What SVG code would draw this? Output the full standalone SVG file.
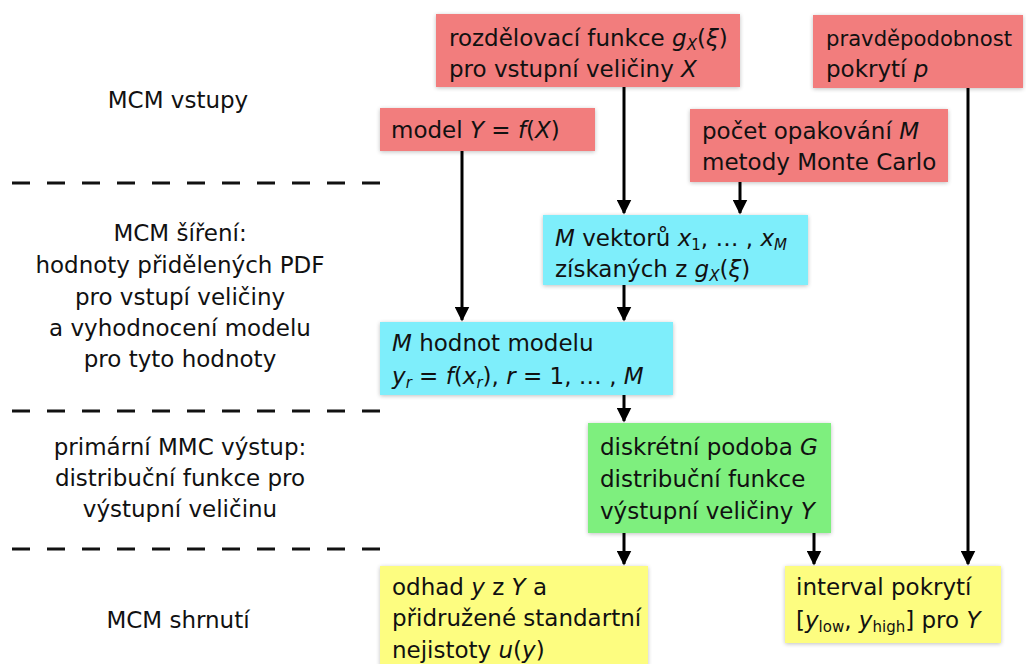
<svg xmlns="http://www.w3.org/2000/svg" width="1026" height="664" viewBox="0 0 1026 664">
<defs>
<marker id="ah" markerWidth="5" markerHeight="5" refX="4.5" refY="2.5" orient="auto" markerUnits="strokeWidth">
<path d="M0,0 L5,2.5 L0,5 Z" fill="#000"/>
</marker>
<filter id="sh" x="-5%" y="-10%" width="110%" height="120%">
<feGaussianBlur in="SourceAlpha" stdDeviation="2"/>
<feOffset dx="0" dy="1" result="b"/>
<feComponentTransfer><feFuncA type="linear" slope="0.25"/></feComponentTransfer>
<feMerge><feMergeNode/><feMergeNode in="SourceGraphic"/></feMerge>
</filter>
<style>
text{font-family:"DejaVu Sans","Liberation Sans",sans-serif;font-size:23px;fill:#111;}
.c{text-anchor:middle;}
.i{font-style:italic;}
.s{font-size:15px;}
.red{fill:#f27d7d;}
.cyan{fill:#7eeefb;}
.green{fill:#7eef7e;}
.yellow{fill:#fdfd80;}
.box rect{filter:url(#sh);}
.conn line{stroke:#000;stroke-width:3;marker-end:url(#ah);}
.dash line{stroke:#111;stroke-width:3;stroke-dasharray:18 17;}
</style>
</defs>
<rect width="1026" height="664" fill="#fff"/>

<g class="dash">
<line x1="12" y1="183" x2="380" y2="183"/>
<line x1="12" y1="411" x2="380" y2="411"/>
<line x1="12" y1="549" x2="380" y2="549"/>
</g>

<g id="labels">
<text class="c" x="178" y="108">MCM vstupy</text>
<text class="c" x="180" y="241">MCM šíření:</text>
<text class="c" x="180" y="273">hodnoty přidělených PDF</text>
<text class="c" x="180" y="305">pro vstupí veličiny</text>
<text class="c" x="180" y="336">a vyhodnocení modelu</text>
<text class="c" x="180" y="367">pro tyto hodnoty</text>
<text class="c" x="180" y="455">primární MMC výstup:</text>
<text class="c" x="180" y="486">distribuční funkce pro</text>
<text class="c" x="180" y="517">výstupní veličinu</text>
<text class="c" x="178" y="628">MCM shrnutí</text>
</g>

<g id="n_rozdelovaci" class="box">
<rect class="red" x="436" y="14" width="304" height="73"/>
<text x="449" y="46">rozdělovací funkce <tspan class="i">g</tspan><tspan class="i s" dy="4">X</tspan><tspan dy="-4">(</tspan><tspan class="i">ξ</tspan>)</text>
<text x="449" y="77">pro vstupní veličiny <tspan class="i">X</tspan></text>
</g>

<g id="n_pravdepodobnost" class="box">
<rect class="red" x="813" y="15" width="210" height="73"/>
<text x="826" y="46" style="font-size:21px" textLength="186" lengthAdjust="spacingAndGlyphs">pravděpodobnost</text>
<text x="826" y="77">pokrytí <tspan class="i">p</tspan></text>
</g>

<g id="n_model" class="box">
<rect class="red" x="380" y="108" width="215" height="43"/>
<text x="391" y="138">model <tspan class="i">Y</tspan> = <tspan class="i">f</tspan>(<tspan class="i">X</tspan>)</text>
</g>

<g id="n_pocet" class="box">
<rect class="red" x="690" y="109" width="258" height="73"/>
<text x="702" y="139">počet opakování <tspan class="i">M</tspan></text>
<text x="702" y="170">metody Monte Carlo</text>
</g>

<g id="n_vektoru" class="box">
<rect class="cyan" x="543" y="215" width="265" height="70"/>
<text x="555" y="246"><tspan class="i">M</tspan> vektorů <tspan class="i">x</tspan><tspan class="s" dy="4">1</tspan><tspan dy="-4">, … , </tspan><tspan class="i">x</tspan><tspan class="i s" dy="4">M</tspan></text>
<text x="555" y="277">získaných z <tspan class="i">g</tspan><tspan class="i s" dy="4">X</tspan><tspan dy="-4">(</tspan><tspan class="i">ξ</tspan>)</text>
</g>

<g id="n_hodnot" class="box">
<rect class="cyan" x="380" y="322" width="293" height="73"/>
<text x="392" y="351"><tspan class="i">M</tspan> hodnot modelu</text>
<text x="392" y="384"><tspan class="i">y</tspan><tspan class="i s" dy="4">r</tspan><tspan dy="-4"> = </tspan><tspan class="i">f</tspan>(<tspan class="i">x</tspan><tspan class="i s" dy="4">r</tspan><tspan dy="-4">), </tspan><tspan class="i">r</tspan> = 1, … , <tspan class="i">M</tspan></text>
</g>

<g id="n_diskretni" class="box">
<rect class="green" x="588" y="423" width="243" height="110"/>
<text x="600" y="455">diskrétní podoba <tspan class="i">G</tspan></text>
<text x="600" y="487">distribuční funkce</text>
<text x="600" y="519">výstupní veličiny <tspan class="i">Y</tspan></text>
</g>

<g id="n_odhad" class="box">
<rect class="yellow" x="380" y="566" width="268" height="100"/>
<text x="392" y="595">odhad <tspan class="i">y</tspan> z <tspan class="i">Y</tspan> a</text>
<text x="392" y="626">přidružené standartní</text>
<text x="392" y="658">nejistoty <tspan class="i">u</tspan>(<tspan class="i">y</tspan>)</text>
</g>

<g id="n_interval" class="box">
<rect class="yellow" x="785" y="566" width="216" height="77"/>
<text x="796" y="595">interval pokrytí</text>
<text x="796" y="628">[<tspan class="i">y</tspan><tspan class="s" dy="4">low</tspan><tspan dy="-4">, </tspan><tspan class="i">y</tspan><tspan class="s" dy="4">high</tspan><tspan dy="-4">] pro </tspan><tspan class="i">Y</tspan></text>
</g>

<g id="connectors" class="conn">
<line x1="624" y1="87" x2="624" y2="213"/>
<line x1="740" y1="182" x2="740" y2="213"/>
<line x1="462" y1="151" x2="462" y2="320"/>
<line x1="624" y1="285" x2="624" y2="320"/>
<line x1="624" y1="395" x2="624" y2="421"/>
<line x1="624" y1="533" x2="624" y2="564"/>
<line x1="814" y1="533" x2="814" y2="564"/>
<line x1="968" y1="88" x2="968" y2="564"/>
</g>
</svg>
